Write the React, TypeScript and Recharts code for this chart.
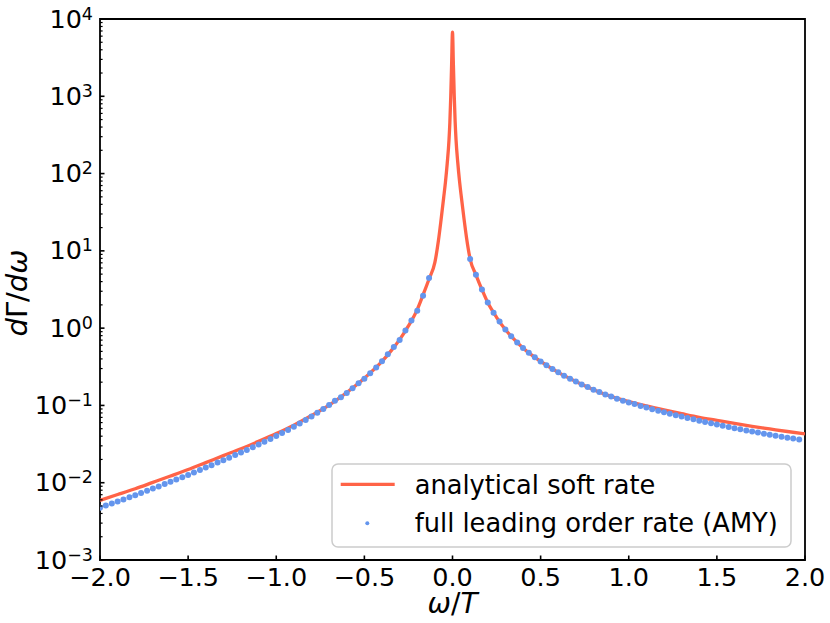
import React from 'react';
import { ComposedChart, Line, Scatter, XAxis, YAxis, ReferenceArea, Legend } from 'recharts';

const FONT = 'DejaVu Sans';
const RED = '#ff6347';
const BLUE = '#6495ed';

// analytical soft rate (red curve)
const softOmega = [
    -2.0, -1.9, -1.8, -1.7, -1.6, -1.5, -1.4, -1.3, -1.2, -1.1, -1.0, -0.9, -0.8, -0.7, -0.6, -0.5,
    -0.4, -0.35, -0.3, -0.25, -0.2, -0.167, -0.133, -0.1, -0.08, -0.065, -0.05, -0.04, -0.03, -0.02,
    -0.015, -0.01, -0.005, 0, 0.005, 0.01, 0.015, 0.02, 0.03, 0.04, 0.05, 0.065, 0.08, 0.1, 0.133,
    0.167, 0.2, 0.25, 0.3, 0.35, 0.4, 0.5, 0.6, 0.7, 0.8, 0.9, 1.0, 1.1, 1.2, 1.3, 1.4, 1.5, 1.6, 1.7,
    1.8, 1.9, 2.0,
];
const softRate = [
    0.00592, 0.00703, 0.00837, 0.0101, 0.0122, 0.0148, 0.0182, 0.0224, 0.0275, 0.0343, 0.0432, 0.0556,
    0.0741, 0.101, 0.147, 0.225, 0.371, 0.504, 0.711, 1.07, 1.74, 2.69, 4.32, 7.08, 13.5, 25.1, 49.0,
    77.6, 135, 269, 457, 977, 2600, 6760, 2600, 1000, 468, 275, 138, 79.4, 50.1, 26.3, 14.6, 7.85,
    4.9, 3.16, 2.14, 1.38, 0.959, 0.714, 0.553, 0.371, 0.268, 0.204, 0.16, 0.131, 0.112, 0.0984,
    0.0875, 0.0783, 0.0703, 0.0641, 0.0585, 0.0537, 0.0497, 0.046, 0.0428,
];

// full leading order rate (AMY), one dot each
const amyOmega = [
    -2.0, -1.967, -1.933, -1.9, -1.867, -1.833, -1.8, -1.767, -1.733, -1.7,
    -1.667, -1.633, -1.6, -1.567, -1.533, -1.5, -1.467, -1.433, -1.4,
    -1.367, -1.333, -1.3, -1.267, -1.233, -1.2, -1.167, -1.133, -1.1,
    -1.067, -1.033, -1.0, -0.967, -0.933, -0.9, -0.867, -0.833, -0.8,
    -0.767, -0.733, -0.7, -0.667, -0.633, -0.6, -0.567, -0.533, -0.5,
    -0.467, -0.433, -0.4, -0.367, -0.333, -0.3, -0.267, -0.233, -0.2,
    -0.167, -0.133,
    0.1, 0.133, 0.167, 0.2, 0.233, 0.267, 0.3, 0.333, 0.367, 0.4,
    0.433, 0.467, 0.5, 0.533, 0.567, 0.6, 0.633, 0.667, 0.7,
    0.733, 0.767, 0.8, 0.833, 0.867, 0.9, 0.933, 0.967, 1.0,
    1.033, 1.067, 1.1, 1.133, 1.167, 1.2, 1.233, 1.267, 1.3,
    1.333, 1.367, 1.4, 1.433, 1.467, 1.5, 1.533, 1.567, 1.6,
    1.633, 1.667, 1.7, 1.733, 1.767, 1.8, 1.833, 1.867, 1.9,
    1.933, 1.967,
];
const amyRate = [
    0.00476, 0.00507, 0.00538, 0.00573, 0.00608, 0.00649, 0.0069, 0.00736, 0.00785, 0.00839,
    0.00895, 0.00959, 0.0103, 0.011, 0.0118, 0.0126, 0.0136, 0.0146, 0.0157,
    0.0168, 0.0182, 0.0195, 0.0211, 0.0228, 0.0246, 0.0265, 0.0288, 0.0312,
    0.0339, 0.0368, 0.0402, 0.0439, 0.0481, 0.0528, 0.0583, 0.0646, 0.0719,
    0.0802, 0.0899, 0.101, 0.115, 0.128, 0.145, 0.167, 0.194, 0.222,
    0.261, 0.31, 0.373, 0.459, 0.571, 0.703, 0.929, 1.26, 1.68,
    2.63, 4.46,
    7.85, 4.9, 3.16, 2.14, 1.58, 1.22, 0.959, 0.783, 0.652, 0.553,
    0.479, 0.419, 0.371, 0.331, 0.297, 0.268, 0.243, 0.222, 0.204,
    0.187, 0.173, 0.16, 0.149, 0.139, 0.13, 0.122, 0.115, 0.109,
    0.104, 0.0984, 0.0938, 0.0893, 0.0853, 0.0817, 0.0782, 0.0748, 0.0718,
    0.0689, 0.0661, 0.0635, 0.0611, 0.0587, 0.0566, 0.0546, 0.0526, 0.0508,
    0.0491, 0.0474, 0.0459, 0.0445, 0.0431, 0.0418, 0.0406, 0.0394, 0.0383,
    0.0372, 0.0362,
];

const xTicks = [-2, -1.5, -1, -0.5, 0, 0.5, 1, 1.5, 2];
const xTickLabels = ['−2.0', '−1.5', '−1.0', '−0.5', '0.0', '0.5', '1.0', '1.5', '2.0'];

const yMajorTicks = [0.001, 0.01, 0.1, 1, 10, 100, 1000, 10000];
const yExponents = ['−3', '−2', '−1', '0', '1', '2', '3', '4'];
const yMinorSteps = [2, 3, 4, 5, 6, 7, 8, 9];

const softData = softOmega.map((w, i) => ({ w, v: softRate[i] }));
const amyData = amyOmega.map((w, i) => ({ w, v: amyRate[i] }));
const yTicks = yMajorTicks.flatMap((t, i) =>
    i < yMajorTicks.length - 1 ? [t, ...yMinorSteps.map((m) => m * t)] : [t]
);

const XTick = ({ x, y, payload }: any) => {
    const i = xTicks.indexOf(payload.value);
    return (
        <g>
            <line x1={x} x2={x} y1={y} y2={y - 4.5} stroke="#000" strokeWidth={1.6} />
            <text x={x} y={y + 26} textAnchor="middle" fontFamily={FONT} fontSize={25.5} fill="#000">
                {xTickLabels[i]}
            </text>
        </g>
    );
};

const YTick = ({ x, y, payload }: any) => {
    const i = yMajorTicks.indexOf(payload.value);
    if (i < 0) {
        return <line x1={x} x2={x + 2.6} y1={y} y2={y} stroke="#000" strokeWidth={1.2} />;
    }
    return (
        <g>
            <line x1={x} x2={x + 4.5} y1={y} y2={y} stroke="#000" strokeWidth={1.6} />
            <text x={x - 7} y={y + 8.5} textAnchor="end" fontFamily={FONT} fontSize={25.5} fill="#000">
                10
                <tspan dy={-8} fontSize={17.5}>
                    {yExponents[i]}
                </tspan>
            </text>
        </g>
    );
};

const LegendBox = () => (
    <svg width={462} height={86}>
        <rect x={1} y={1} width={459} height={83} rx={6} fill="#fff" fillOpacity={0.8} stroke="#cccccc" strokeWidth={1.5} />
        <line x1={9.7} x2={63.7} y1={21.3} y2={21.3} stroke={RED} strokeWidth={3.3} />
        <circle cx={36.3} cy={60.3} r={2} fill={BLUE} />
        <text x={83.7} y={31.3} fontFamily={FONT} fontSize={25.7} fill="#000">
            analytical soft rate
        </text>
        <text x={83.7} y={69.3} fontFamily={FONT} fontSize={25.7} fill="#000">
            full leading order rate (AMY)
        </text>
    </svg>
);

export default function App() {
    return (
        <div style={{ position: 'absolute', left: 0, top: 0, background: '#fff' }}>
            <ComposedChart width={830} height={623} margin={{ top: 19, right: 25, bottom: 0, left: 0 }}>
                <XAxis
                    type="number"
                    dataKey="w"
                    domain={[-2, 2]}
                    allowDataOverflow
                    ticks={xTicks}
                    interval={0}
                    height={63}
                    tickSize={0}
                    tickMargin={0}
                    axisLine={false}
                    tickLine={false}
                    tick={<XTick />}
                    label={{
                        content: () => (
                            <text x={452.5} y={613} textAnchor="middle" fontFamily={FONT} fontSize={28} fill="#000">
                                <tspan fontStyle="italic">ω</tspan>/<tspan fontStyle="italic">T</tspan>
                            </text>
                        ),
                    }}
                />
                <YAxis
                    type="number"
                    dataKey="v"
                    scale="log"
                    domain={[0.001, 10000]}
                    allowDataOverflow
                    ticks={yTicks}
                    interval={0}
                    width={100}
                    tickSize={0}
                    tickMargin={0}
                    axisLine={false}
                    tickLine={false}
                    tick={<YTick />}
                    label={{
                        content: () => (
                            <text
                                transform="translate(27,293) rotate(-90)"
                                textAnchor="middle"
                                fontFamily={FONT}
                                fontSize={29}
                                fill="#000"
                            >
                                <tspan fontStyle="italic">d</tspan>Γ/<tspan fontStyle="italic">dω</tspan>
                            </text>
                        ),
                    }}
                />
                <Line
                    data={softData}
                    dataKey="v"
                    type="monotone"
                    stroke={RED}
                    strokeWidth={3.3}
                    dot={false}
                    activeDot={false}
                    isAnimationActive={false}
                />
                <Scatter
                    data={amyData}
                    dataKey="v"
                    fill={BLUE}
                    isAnimationActive={false}
                    shape={(p: any) => <circle cx={p.cx} cy={p.cy} r={3} fill={BLUE} />}
                />
                <ReferenceArea
                    x1={-2}
                    x2={2}
                    y1={0.001}
                    y2={10000}
                    fill="none"
                    stroke="#000"
                    strokeWidth={1.8}
                    ifOverflow="visible"
                />
                <Legend
                    layout="vertical"
                    align="center"
                    verticalAlign="middle"
                    content={() => <LegendBox />}
                    wrapperStyle={{ left: 331, top: 463, width: 462, height: 86 }}
                />
            </ComposedChart>
        </div>
    );
}
